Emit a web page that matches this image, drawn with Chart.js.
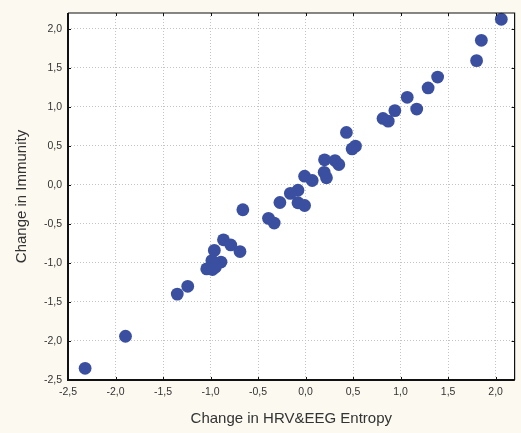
<!DOCTYPE html>
<html>
<head>
<meta charset="utf-8">
<script src="https://cdn.jsdelivr.net/npm/chart.js@4"></script>
<style>
  html, body { margin: 0; padding: 0; background: #fcf9f0; }
  #wrap { width: 521px; height: 433px; }
</style>
</head>
<body>
<div id="wrap"><canvas id="scatter" width="521" height="433"></canvas></div>
<script>
// values
const entropyChange = [2.06, 1.85, 1.80, 1.39, 1.29, 1.17, 1.07, 0.94, 0.815, 0.87,
  0.43, 0.525, 0.49, 0.20, 0.31, 0.35, 0.196, 0.22, -0.01, 0.07,
  -0.08, -0.16, -0.08, -0.01, -0.27, -0.66, -0.39, -0.33, -0.864, -0.787,
  -0.69, -0.96, -0.89, -0.986, -1.04, -0.98, -0.95, -1.24, -1.35, -1.895, -2.32];
const immunityChange = [2.12, 1.85, 1.59, 1.38, 1.24, 0.97, 1.12, 0.95, 0.85, 0.815,
  0.67, 0.495, 0.46, 0.32, 0.31, 0.26, 0.16, 0.09, 0.11, 0.055,
  -0.07, -0.11, -0.23, -0.265, -0.227, -0.32, -0.43, -0.49, -0.705, -0.77,
  -0.855, -0.84, -0.99, -0.97, -1.077, -1.086, -1.056, -1.30, -1.40, -1.94, -2.35];

const xTicks = [-2.5, -2.0, -1.5, -1.0, -0.5, 0.0, 0.5, 1.0, 1.5, 2.0];
const yTicks = [-2.5, -2.0, -1.5, -1.0, -0.5, 0.0, 0.5, 1.0, 1.5, 2.0];

const points = entropyChange.map((x, i) => ({ x: x, y: immunityChange[i] }));

function fmt(v) {
  return Number(v).toFixed(1).replace(".", ",");
}

// cream page, white plot, black frame with small inward ticks
const framePlugin = {
  id: "frame",
  beforeDraw(chart) {
    const ctx = chart.ctx;
    const a = chart.chartArea;
    ctx.save();
    ctx.fillStyle = "#fcf9f0";
    ctx.fillRect(0, 0, chart.width, chart.height);
    ctx.fillStyle = "#ffffff";
    ctx.fillRect(a.left, a.top, a.right - a.left, a.bottom - a.top);
    ctx.restore();
  },
  afterDraw(chart) {
    const ctx = chart.ctx;
    const a = chart.chartArea;
    const xs = chart.scales.x;
    const ys = chart.scales.y;
    ctx.save();
    ctx.strokeStyle = "#111";
    ctx.lineWidth = 1.2;
    ctx.beginPath();
    ctx.moveTo(a.left, a.top);
    ctx.lineTo(a.right, a.top);
    ctx.lineTo(a.right, a.bottom);
    ctx.stroke();
    ctx.lineWidth = 2;
    ctx.beginPath();
    ctx.moveTo(a.left, a.top);
    ctx.lineTo(a.left, a.bottom);
    ctx.lineTo(a.right, a.bottom);
    ctx.stroke();
    ctx.lineWidth = 1;
    ctx.beginPath();
    xTicks.forEach((v) => {
      const px = Math.round(xs.getPixelForValue(v)) + 0.5;
      ctx.moveTo(px, a.bottom);
      ctx.lineTo(px, a.bottom - 3);
      ctx.moveTo(px, a.top);
      ctx.lineTo(px, a.top + 3);
    });
    yTicks.forEach((v) => {
      const py = Math.round(ys.getPixelForValue(v)) + 0.5;
      ctx.moveTo(a.left, py);
      ctx.lineTo(a.left + 3, py);
      ctx.moveTo(a.right, py);
      ctx.lineTo(a.right - 3, py);
    });
    ctx.stroke();
    ctx.restore();
  },
};

new Chart(document.getElementById("scatter"), {
  type: "scatter",
  data: {
    datasets: [
      {
        label: "Immunity vs Entropy",
        data: points,
        backgroundColor: "#3a4f9f",
        borderWidth: 0,
        pointRadius: 6.4,
        pointHoverRadius: 6.4,
        clip: false,
      },
    ],
  },
  options: {
    responsive: false,
    animation: false,
    layout: { padding: { top: 13, right: 3, left: 0, bottom: 0 } },
    plugins: { legend: { display: false }, tooltip: { enabled: false } },
    scales: {
      x: {
        type: "linear",
        min: -2.5,
        max: 2.2,
        afterBuildTicks: (s) => { s.ticks = xTicks.map((v) => ({ value: v })); },
        afterFit: (s) => { s.height = 53; },
        grid: { color: "#c4c4c4", lineWidth: 1, drawTicks: false },
        border: { display: false, dash: [1, 2] },
        ticks: {
          padding: 6,
          color: "#333",
          font: { family: "Liberation Sans, Arial", size: 10.5 },
          callback: (v) => fmt(v),
          maxRotation: 0,
          autoSkip: false,
        },
        title: {
          display: true,
          text: "Change in HRV&EEG Entropy",
          color: "#333",
          font: { family: "Liberation Sans, Arial", size: 15 },
          padding: { top: 0, bottom: 5 },
        },
      },
      y: {
        type: "linear",
        min: -2.5,
        max: 2.2,
        afterBuildTicks: (s) => { s.ticks = yTicks.map((v) => ({ value: v })); },
        afterFit: (s) => { s.width = 68; },
        grid: { color: "#c4c4c4", lineWidth: 1, drawTicks: false },
        border: { display: false, dash: [1, 2] },
        ticks: {
          padding: 6,
          color: "#333",
          font: { family: "Liberation Sans, Arial", size: 10.5 },
          callback: (v) => fmt(v),
          autoSkip: false,
        },
        title: {
          display: true,
          text: "Change in Immunity",
          color: "#333",
          font: { family: "Liberation Sans, Arial", size: 15 },
          padding: { top: 13, bottom: 0 },
        },
      },
    },
  },
  plugins: [framePlugin],
});
</script>
</body>
</html>
